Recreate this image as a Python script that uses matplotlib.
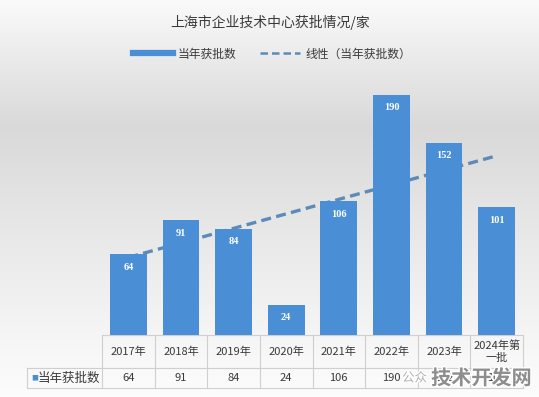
import numpy as np
import matplotlib.pyplot as plt
import matplotlib.patheffects as pe
from matplotlib.lines import Line2D
from matplotlib.colors import LinearSegmentedColormap

plt.rcParams['font.family'] = ['Noto Sans CJK SC', 'DejaVu Sans']

# 数据
categories = ['2017年', '2018年', '2019年', '2020年', '2021年', '2022年', '2023年', '2024年第\n一批']
values = [64, 91, 84, 24, 106, 190, 152, 101]
series_name = '当年获批数'
title = '上海市企业技术中心获批情况/家'

bar_color = '#4a8fd6'
trend_color = '#5d8ab8'
grid_color = '#cfcfcf'
text_color = '#3a3a3a'

W, H = 539, 397
fig = plt.figure(figsize=(W / 100, H / 100), dpi=100)

# 背景渐变
bg = fig.add_axes([0, 0, 1, 1], zorder=-10)
bg.axis('off')
cmap = LinearSegmentedColormap.from_list('bg', [
    (0.0, '#fcfcfc'), (0.12, '#f7f7f7'), (0.45, '#e6e6e6'),
    (0.68, '#d9d9d9'), (0.84, '#e9e9e9'), (1.0, '#fafafa')])
grad = np.linspace(0, 1, 256).reshape(-1, 1)
bg.imshow(grad, aspect='auto', cmap=cmap, extent=[0, 1, 0, 1])
bg.set_xlim(0, 1)
bg.set_ylim(1, 0)

# 主图
left, right = 102 / W, 523 / W
bottom, top = 1 - 335 / H, 1 - 82 / H
ax = fig.add_axes([left, bottom, right - left, top - bottom])
ax.patch.set_alpha(0)
x = np.arange(len(values))
ax.bar(x, values, width=0.7, color=bar_color, zorder=3)
coef = np.polyfit(x, values, 1)
ax.plot(x, np.polyval(coef, x), ls=(0, (3, 1.6)), lw=2.4, color=trend_color, zorder=2)
for xi, v in zip(x, values):
    ax.annotate(str(v), (xi, v), xytext=(0, -9.5), textcoords='offset points',
                ha='center', va='center', color='white', fontsize=7.5,
                fontweight='bold', family='Liberation Serif', zorder=4)
ax.set_xlim(-0.5, len(values) - 0.5)
ax.set_ylim(0, 200)
ax.axis('off')

# 标题和图例
fig.text(270 / W, 1 - 22 / H, title, ha='center', va='center', fontsize=10, color=text_color)
handles = [Line2D([], [], color=bar_color, lw=4.5),
           Line2D([], [], color=trend_color, lw=1.8, ls=(0, (3, 1.6)))]
fig.legend(handles, [series_name, '线性（' + series_name + '）'], loc='center',
           bbox_to_anchor=(272 / W, 1 - 54 / H), ncol=2, frameon=False, fontsize=8.5,
           handlelength=3.4, handletextpad=0.4, columnspacing=2.0,
           labelcolor=text_color)

# 数据表
tr = ax.get_xaxis_transform()
ax_h = 335 - 82
r1 = -33 / ax_h
r2 = -53 / ax_h
hdr_left = -0.5 - 75 / (421 / len(values))
edges = np.arange(len(values) + 1) - 0.5
lk = dict(color=grid_color, lw=0.8, transform=tr, clip_on=False)
ax.plot([-0.5, edges[-1]], [0, 0], **lk)
ax.plot([hdr_left, edges[-1]], [r1, r1], **lk)
ax.plot([hdr_left, edges[-1]], [r2, r2], **lk)
ax.plot([hdr_left, hdr_left], [r1, r2], **lk)
for e in edges:
    ax.plot([e, e], [0, r2], **lk)
for xi, c, v in zip(x, categories, values):
    ax.text(xi, r1 / 2, c, ha='center', va='center', fontsize=8, color=text_color,
            transform=tr, linespacing=1.25)
    ax.text(xi, (r1 + r2) / 2, str(v), ha='center', va='center', fontsize=8,
            color=text_color, transform=tr)
ax.text(hdr_left + 0.08, (r1 + r2) / 2, '■', ha='left', va='center', fontsize=5,
        color=bar_color, transform=tr)
ax.text(hdr_left + 0.2, (r1 + r2) / 2, series_name, ha='left', va='center', fontsize=9,
        color=text_color, transform=tr)

# 水印
stroke = [pe.withStroke(linewidth=2, foreground='white')]
fig.text(402 / W, 1 - 378 / H, '公众', ha='left', va='center', fontsize=9,
         color='#b0b0b0', path_effects=stroke)
fig.text(431 / W, 1 - 378 / H, '技术开发网', ha='left', va='center', fontsize=14.5,
         fontweight='bold', color='#8e8e8e', path_effects=stroke)

fig.savefig('out.png', dpi=100)
